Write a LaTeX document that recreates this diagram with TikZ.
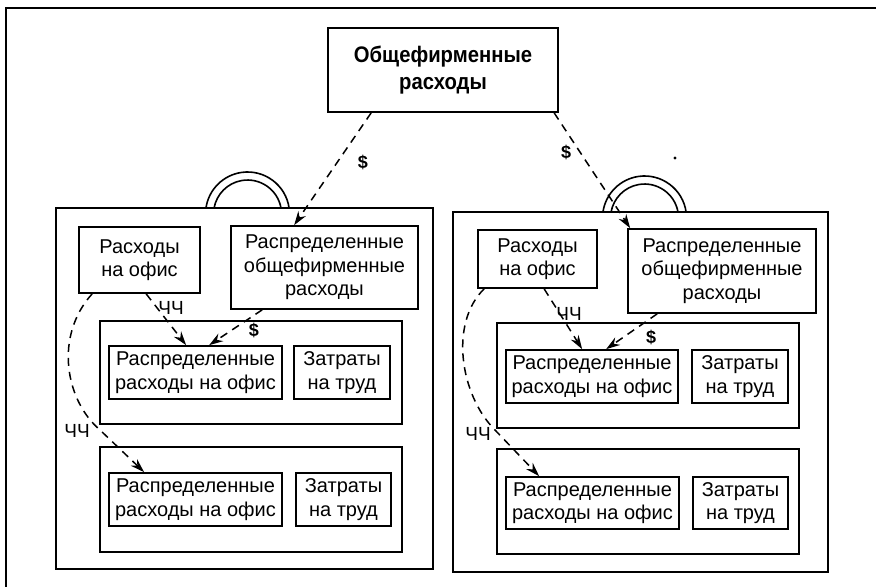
\documentclass[tikz,border=0pt]{standalone}
\usepackage{fontspec}
\setmainfont{Liberation Sans}
\newfontfamily\titlefont{Liberation Sans}[FakeStretch=0.9]
\usetikzlibrary{arrows.meta}

\begin{document}
\begin{tikzpicture}[x=1pt,y=-1pt,
  box/.style={draw, line width=1.7pt, align=center, inner sep=0pt,
    font=\fontsize{20}{23.5}\selectfont},
  panel/.style={draw, line width=1.8pt, inner sep=0pt},
  conn/.style={line width=1.5pt, dash pattern=on 8pt off 6pt,
    -{Stealth[length=14pt,width=9pt]}},
  lbl/.style={inner sep=0pt, font=\fontsize{19}{19}\selectfont},
  cash/.style={inner sep=0pt, font=\bfseries\fontsize{18}{18}\selectfont},
  ring/.style={line width=1.6pt}]
\useasboundingbox (0,0) rectangle (876,587);

% outer frame
\draw[line width=2.2pt] (876,8) -- (6,8) -- (6,587);

% company-wide costs
\node[box, minimum width=230pt, minimum height=84pt,
  font=\titlefont\bfseries\fontsize{22.5}{27}\selectfont] (t) at (443,70)
  {Общефирменные\\расходы};

% ---------- left department ----------
\node[panel, minimum width=377pt, minimum height=361pt] (lp) at (244.5,388.5) {};
\draw[ring] (289.1,208) arc[start angle=8.2, end angle=171.8, radius=42pt];
\draw[ring] (281,208) arc[start angle=10.2, end angle=169.8, radius=34pt];

\node[box, minimum width=121pt, minimum height=66pt] (la) at (139.5,260) {Расходы\\на офис};
\node[box, minimum width=187pt, minimum height=83pt] (lb) at (324.5,267.5)
  {Распределенные\\общефирменные\\расходы};

\node[panel, minimum width=302pt, minimum height=103pt] (lc1) at (251,372.5) {};
\node[box, minimum width=173pt, minimum height=53pt] (ld1) at (195.5,372.5)
  {Распределенные\\расходы на офис};
\node[box, minimum width=96pt, minimum height=53pt] (le1) at (342,372.5) {Затраты\\на труд};

\node[panel, minimum width=302pt, minimum height=105pt] (lc2) at (251,499.5) {};
\node[box, minimum width=173pt, minimum height=53pt] (ld2) at (195.5,499.5)
  {Распределенные\\расходы на офис};
\node[box, minimum width=95pt, minimum height=53pt] (le2) at (343.5,499.5) {Затраты\\на труд};

% ---------- right department ----------
\node[panel, minimum width=375pt, minimum height=360pt] (rp) at (640.5,392) {};
\draw[ring] (686.1,212) arc[start angle=8.2, end angle=171.8, radius=42pt];
\draw[ring] (678,212) arc[start angle=10.2, end angle=169.8, radius=34pt];

\node[box, minimum width=119pt, minimum height=58pt] (ra) at (537.5,259) {Расходы\\на офис};
\node[box, minimum width=188pt, minimum height=84pt] (rb) at (722,271)
  {Распределенные\\общефирменные\\расходы};

\node[panel, minimum width=302pt, minimum height=105pt] (rc1) at (648,375.5) {};
\node[box, minimum width=172pt, minimum height=53pt] (rd1) at (592,376.5)
  {Распределенные\\расходы на офис};
\node[box, minimum width=96pt, minimum height=53pt] (re1) at (740,376.5) {Затраты\\на труд};

\node[panel, minimum width=302pt, minimum height=105pt] (rc2) at (648,501.5) {};
\node[box, minimum width=173pt, minimum height=52pt] (rd2) at (592.5,503)
  {Распределенные\\расходы на офис};
\node[box, minimum width=95pt, minimum height=52pt] (re2) at (740.5,503) {Затраты\\на труд};

% ---------- flows ----------
\draw[conn] ([xshift=44pt]t.south west) -- ([xshift=64pt]lb.north west);
\draw[conn] ([xshift=227pt]t.south west) -- ([xshift=3pt]rb.north west);

\draw[conn] ([xshift=68pt]la.south west) -- ([xshift=78pt]ld1.north west);
\draw[conn] ([xshift=32pt]lb.south west) -- ([xshift=101pt]ld1.north west);
\coordinate (lbend) at (100,430);
\draw[conn] ([xshift=14pt]la.south west) .. controls +(-38,42) and +(-35,-30) .. (lbend)
  -- ([xshift=36pt]ld2.north west);

\draw[conn] ([xshift=67pt]ra.south west) -- ([xshift=77pt]rd1.north west);
\draw[conn] ([xshift=30pt]rb.south west) -- ([xshift=101pt]rd1.north west);
\coordinate (rbend) at (495,430);
\draw[conn] ([xshift=7pt]ra.south west) .. controls +(-35,34) and +(-35,-35) .. (rbend)
  -- ([xshift=34pt]rd2.north west);

% ---------- flow labels ----------
\node[cash] (d1) at (363,162) {\$};
\node[cash] (d2) at (566,152) {\$};
\node[cash] (d3) at (254,330) {\$};
\node[cash] (d4) at (651,337) {\$};
\node[lbl] (h1) at (171,308) {ЧЧ};
\node[lbl] (h2) at (77,431) {ЧЧ};
\node[lbl] (h3) at (569,314) {ЧЧ};
\node[lbl] (h4) at (478,434) {ЧЧ};

\fill (675,158) circle[radius=1.6pt];
\end{tikzpicture}
\end{document}
